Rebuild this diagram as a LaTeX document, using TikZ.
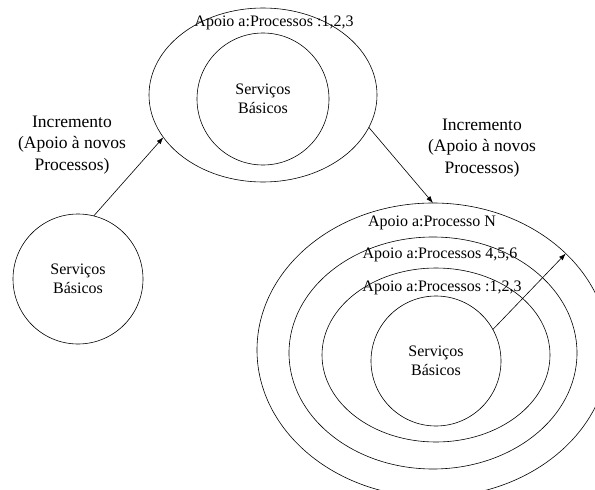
\documentclass[tikz,border=0pt]{standalone}
\usepackage{fontspec}
\setmainfont{Liberation Serif}
\usetikzlibrary{shapes.geometric}
\usetikzlibrary{arrows.meta}
\tikzset{
  ring/.style={draw, ellipse, inner sep=0pt, outer sep=0pt, line width=0.6pt,
               align=center, font=\fontsize{16}{19}\selectfont},
  ball/.style={draw, circle, inner sep=0pt, outer sep=0pt, line width=0.6pt,
               align=center, font=\fontsize{16}{19}\selectfont},
  apoio/.style={inner sep=0pt, font=\fontsize{16}{19}\selectfont},
  incr/.style={align=center, inner sep=0pt, font=\fontsize{17.5}{21.5}\selectfont},
  incrArrow/.style={-{Latex[length=7pt,width=5pt]}, line width=0.6pt}
}

\begin{document}
\begin{tikzpicture}[x=1pt,y=-1pt]
        \useasboundingbox (0,0) rectangle (595,490);
        \clip (0,0) rectangle (595,490);

        % first step: only basic services
        \node[ball, minimum size=130] (base) at (78,279) {Serviços\\Básicos};

        % second step
        \node[ring, minimum width=228, minimum height=174] (topOuter) at (263,95) {};
        \node[ball, minimum size=132] (topBase) at (263,99) {Serviços\\Básicos};
        \node[apoio] (topLbl) at (274,23) {Apoio a:Processos :1,2,3};

        % last step
        \node[ring, minimum width=352, minimum height=294] (ringN)   at (433,350) {};
        \node[ring, minimum width=288, minimum height=232] (ring456) at (433,353) {};
        \node[ring, minimum width=228, minimum height=174] (ring123) at (436,355) {};
        \node[ball, minimum size=130] (lastBase) at (436,361) {Serviços\\Básicos};
        \node[apoio] (lblN)   at (432,223) {Apoio a:Processo N};
        \node[apoio] (lbl456) at (440,255) {Apoio a:Processos 4,5,6};
        \node[apoio] (lbl123) at (442,288) {Apoio a:Processos :1,2,3};

        % increments
        \node[incr] (incrA) at (72,145)  {Incremento\\(Apoio à novos\\Processos)};
        \node[incr] (incrB) at (482,148) {Incremento\\(Apoio à novos\\Processos)};

        \draw[incrArrow] (base.76)      -- (topOuter.-157);
        \draw[incrArrow] (topOuter.-17) -- (ringN.north);
        \draw[incrArrow] (lastBase.29)  -- (ringN.36);
    \end{tikzpicture}
\end{document}
